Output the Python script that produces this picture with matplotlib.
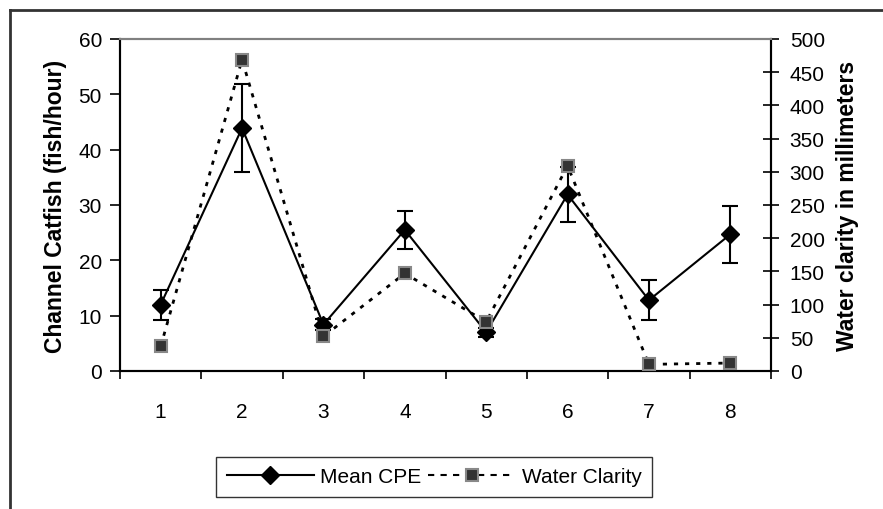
import matplotlib
matplotlib.use("Agg")
import matplotlib.pyplot as plt
from matplotlib.lines import Line2D
import numpy as np

plt.rcParams['font.family'] = ['Liberation Sans', 'DejaVu Sans']

categories = ['1', '2', '3', '4', '5', '6', '7', '8']
mean_cpe = [12.0, 43.9, 8.4, 25.5, 7.0, 31.9, 12.8, 24.7]
cpe_err = [2.7, 8.0, 1.0, 3.4, 0.8, 5.0, 3.6, 5.2]
water_clarity = [37, 469, 52, 147, 74, 309, 10, 12]

fig = plt.figure(figsize=(8.83, 5.10), dpi=100)
ax = fig.add_axes([120/883, 1-372/510, (771-120)/883, (372-40)/510])
ax2 = ax.twinx()

x = np.arange(len(categories))

cpe_style = dict(color='black', lw=1.5, marker='D', markersize=9,
                 mfc='black', mec='black')
wc_style = dict(color='black', lw=2, linestyle=(0, (1.5, 2.5)), marker='s',
                markersize=9, mfc='#333333', mec='#888888', mew=1.5)

ax.errorbar(x, mean_cpe, yerr=cpe_err, capsize=5.5, capthick=1.5,
            elinewidth=1.5, zorder=3, **cpe_style)
ax2.plot(x, water_clarity, zorder=4, **wc_style)

ax.set_xlim(-0.5, len(categories) - 0.5)
ax.set_ylim(0, 60)
ax2.set_ylim(0, 500)
ax.set_yticks(np.arange(0, 61, 10))
ax2.set_yticks(np.arange(0, 501, 50))

ax.set_xticks(x)
ax.set_xticklabels(categories)
ax.set_xticks(np.arange(-0.5, len(categories), 1), minor=True)
ax.tick_params(axis='x', which='major', length=0, pad=22, labelsize=15)
ax.tick_params(axis='x', which='minor', length=6, width=1.2, direction='out')
ax.tick_params(axis='y', length=7, width=1.2, direction='out', pad=6, labelsize=15)
ax2.tick_params(axis='y', length=11, width=1.2, direction='inout', pad=8, labelsize=15)

for a in (ax, ax2):
    a.spines['top'].set_color('#808080')
    a.spines['top'].set_linewidth(1.5)
    for s in ('left', 'right', 'bottom'):
        a.spines[s].set_linewidth(1.5)
        a.spines[s].set_color('black')

ax.set_ylabel('Channel Catfish (fish/hour)', fontsize=16.5, fontweight='bold', labelpad=8)
ax2.set_ylabel('Water clarity in millimeters', fontsize=16.5, fontweight='bold', labelpad=8)

handles = [
    Line2D([], [], **cpe_style),
    Line2D([], [], color='black', lw=1.5, linestyle=(0, (3, 3)), marker='s',
           markersize=9, mfc='#333333', mec='#888888', mew=1.5),
]
leg = fig.legend(handles, ['Mean CPE', 'Water Clarity'], loc='center', ncol=2,
                 bbox_to_anchor=(434/883, 1-478/510), fontsize=15,
                 frameon=True, fancybox=False, edgecolor='black',
                 handlelength=4.2, columnspacing=0.3, handletextpad=0.3,
                 borderpad=0.5, borderaxespad=0)
leg.get_frame().set_linewidth(1.0)

# outer chart frame
fig.add_artist(Line2D([10/883, 10/883], [0, 1-11/510], transform=fig.transFigure,
                      color='#333333', lw=2))
fig.add_artist(Line2D([10/883, 1], [1-11/510, 1-11/510], transform=fig.transFigure,
                      color='#333333', lw=2))

fig.savefig('out.png', dpi=100)
